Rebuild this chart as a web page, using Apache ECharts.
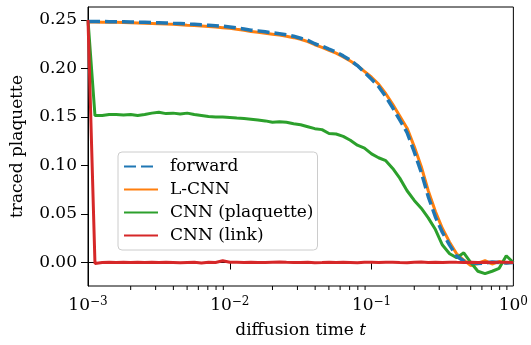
<!DOCTYPE html>
<html>
<head>
<meta charset="utf-8">
<script src="https://cdn.jsdelivr.net/npm/echarts@6/dist/echarts.min.js"></script>
<style>
  html, body { margin: 0; padding: 0; background: #fff; }
  #chart { width: 531px; height: 345px; }
</style>
</head>
<body>
<div id="chart"></div>
<script>
// diffusion times (log spaced, 20 per decade)
const times = [
  0.001, 0.00112, 0.00126, 0.00141, 0.00158, 0.00178, 0.002, 0.00224, 0.00251, 0.00282,
  0.00316, 0.00355, 0.00398, 0.00447, 0.00501, 0.00562, 0.00631, 0.00708, 0.00794, 0.00891,
  0.01, 0.0112, 0.0126, 0.0141, 0.0158, 0.0178, 0.02, 0.0224, 0.0251, 0.0282,
  0.0316, 0.0355, 0.0398, 0.0447, 0.0501, 0.0562, 0.0631, 0.0708, 0.0794, 0.0891,
  0.1, 0.112, 0.126, 0.141, 0.158, 0.178, 0.2, 0.224, 0.251, 0.282,
  0.316, 0.355, 0.398, 0.447, 0.501, 0.562, 0.631, 0.708, 0.794, 0.891,
  1.0
];

const forward = [
  0.2485, 0.2485, 0.2484, 0.2483, 0.2482, 0.2481, 0.2479, 0.2478, 0.2476, 0.2474,
  0.2472, 0.2469, 0.2466, 0.2463, 0.2459, 0.2455, 0.2450, 0.2446, 0.2441, 0.2436,
  0.2428, 0.2418, 0.2408, 0.2395, 0.2388, 0.2378, 0.2368, 0.2358, 0.2347, 0.2332,
  0.2312, 0.2290, 0.2255, 0.2230, 0.2200, 0.2170, 0.2130, 0.2085, 0.2030, 0.1960,
  0.1890, 0.1815, 0.1710, 0.1595, 0.1470, 0.1340, 0.1140, 0.0930, 0.0680, 0.0470,
  0.0310, 0.0180, 0.0065, 0.0015, 0.0000, -0.0010, -0.0005, 0.0005, 0.0000, -0.0005,
  0.0000
];

const lcnn = [
  0.2480, 0.2479, 0.2478, 0.2477, 0.2476, 0.2474, 0.2472, 0.2470, 0.2467, 0.2465,
  0.2462, 0.2458, 0.2455, 0.2451, 0.2446, 0.2442, 0.2437, 0.2432, 0.2427, 0.2421,
  0.2414, 0.2404, 0.2394, 0.2382, 0.2374, 0.2364, 0.2354, 0.2344, 0.2333, 0.2318,
  0.2302, 0.2277, 0.2245, 0.2218, 0.2188, 0.2158, 0.2120, 0.2077, 0.2030, 0.1970,
  0.1910, 0.1840, 0.1740, 0.1630, 0.1510, 0.1385, 0.1195, 0.0990, 0.0740, 0.0525,
  0.0350, 0.0210, 0.0090, 0.0025, -0.0030, -0.0010, 0.0020, -0.0015, 0.0010, -0.0005,
  0.0005
];

const cnnPlaquette = [
  0.2500, 0.1515, 0.1515, 0.1525, 0.1525, 0.1520, 0.1525, 0.1515, 0.1525, 0.1540,
  0.1550, 0.1535, 0.1540, 0.1530, 0.1540, 0.1525, 0.1515, 0.1505, 0.1500, 0.1500,
  0.1495, 0.1490, 0.1485, 0.1478, 0.1470, 0.1460, 0.1445, 0.1450, 0.1445, 0.1430,
  0.1420, 0.1400, 0.1380, 0.1370, 0.1330, 0.1325, 0.1300, 0.1260, 0.1210, 0.1180,
  0.1120, 0.1080, 0.1050, 0.0970, 0.0870, 0.0740, 0.0640, 0.0560, 0.0460, 0.0340,
  0.0180, 0.0090, 0.0050, 0.0100, 0.0000, -0.0090, -0.0115, -0.0090, -0.0060, 0.0070,
  0.0000
];

const cnnLink = [
  0.2500, -0.0010, 0.0000, 0.0002, 0.0001, 0.0003, 0.0001, 0.0002, 0.0000, 0.0003,
  0.0001, 0.0002, 0.0000, -0.0003, 0.0001, 0.0002, -0.0004, 0.0002, 0.0001, 0.0018,
  0.0002, 0.0004, 0.0001, 0.0002, 0.0000, 0.0001, 0.0003, 0.0005, 0.0002, 0.0000,
  0.0001, 0.0003, -0.0002, 0.0001, 0.0004, 0.0000, 0.0002, 0.0001, -0.0003, 0.0002,
  0.0003, 0.0000, 0.0002, 0.0004, 0.0001, -0.0002, 0.0003, 0.0006, 0.0001, 0.0002,
  0.0000, 0.0004, 0.0002, 0.0001, 0.0003, 0.0000, 0.0002, 0.0001, 0.0003, 0.0002,
  0.0001
];

const yTicks = [0, 0.05, 0.1, 0.15, 0.2, 0.25];
const minorTicks = [
  0.002, 0.003, 0.004, 0.005, 0.006, 0.007, 0.008, 0.009,
  0.02, 0.03, 0.04, 0.05, 0.06, 0.07, 0.08, 0.09,
  0.2, 0.3, 0.4, 0.5, 0.6, 0.7, 0.8, 0.9
];

const FONT = "DejaVu Serif";
const SIZE = 17;

function pairs(values) {
  return times.map((t, i) => [t, values[i]]);
}

function formatPower(value) {
  const exp = Math.round(Math.log10(value));
  const expText = exp < 0 ? "\u2212" + Math.abs(exp) : String(exp);
  return `{b|10}{s|${expText}}`;
}

const chart = echarts.init(document.getElementById("chart"));

chart.setOption({
  animation: false,
  grid: {
    left: 88,
    right: 15,
    top: 7,
    bottom: 59,
    show: true,
    borderColor: "#000",
    borderWidth: 1,
    backgroundColor: "transparent",
  },
  legend: {
    data: ["forward", "L-CNN", "CNN (plaquette)", "CNN (link)"],
    orient: "vertical",
    left: 118,
    top: 152,
    itemWidth: 34,
    itemHeight: 14,
    itemGap: 6,
    padding: [6, 4, 6, 5],
    backgroundColor: "rgba(255,255,255,0.85)",
    borderColor: "#cccccc",
    borderWidth: 1,
    borderRadius: 4,
    itemStyle: { opacity: 0 },
    textStyle: {
      fontFamily: FONT,
      fontSize: SIZE,
      lineHeight: 14,
      color: "#000",
      padding: [0, 0, 0, 7],
    },
  },
  xAxis: {
    type: "log",
    logBase: 10,
    min: 0.001,
    max: 1,
    axisLine: { lineStyle: { color: "#000", width: 1 } },
    axisTick: { length: 7, lineStyle: { color: "#000" } },
    splitLine: { show: false },
    axisLabel: {
      margin: 10,
      formatter: formatPower,
      rich: {
        b: { fontFamily: FONT, fontSize: SIZE, color: "#000" },
        s: {
          fontFamily: FONT,
          fontSize: 12,
          color: "#000",
          verticalAlign: "bottom",
          padding: [0, 0, 8, 0],
        },
      },
    },
    name: "diffusion time {i|t}",
    nameLocation: "middle",
    nameGap: 36,
    nameTextStyle: {
      fontFamily: FONT,
      fontSize: SIZE,
      color: "#000",
      rich: {
        i: { fontFamily: FONT, fontSize: SIZE, fontStyle: "italic", color: "#000" },
      },
    },
  },
  yAxis: {
    type: "value",
    min: -0.0242,
    max: 0.2634,
    axisLine: { show: true, lineStyle: { color: "#000", width: 1 } },
    axisTick: {
      show: true,
      length: 7,
      customValues: yTicks,
      lineStyle: { color: "#000" },
    },
    splitLine: { show: false },
    axisLabel: {
      customValues: yTicks,
      margin: 11,
      fontFamily: FONT,
      fontSize: SIZE,
      color: "#000",
      formatter: (v) => v.toFixed(2),
    },
    name: "traced plaquette",
    nameLocation: "middle",
    nameGap: 62,
    nameTextStyle: { fontFamily: FONT, fontSize: SIZE, color: "#000" },
  },
  series: [
    {
      name: "L-CNN",
      type: "line",
      data: pairs(lcnn),
      showSymbol: false,
      symbol: "none",
      z: 2,
      lineStyle: { color: "#ff7f0e", width: 3 },
      itemStyle: { color: "#ff7f0e" },
    },
    {
      name: "forward",
      type: "line",
      data: pairs(forward),
      showSymbol: false,
      symbol: "none",
      z: 3,
      lineStyle: { color: "#1f77b4", width: 3.5, type: [12, 5] },
      itemStyle: { color: "#1f77b4" },
    },
    {
      name: "CNN (plaquette)",
      type: "line",
      data: pairs(cnnPlaquette),
      showSymbol: false,
      symbol: "none",
      z: 2,
      lineStyle: { color: "#2ca02c", width: 3 },
      itemStyle: { color: "#2ca02c" },
    },
    {
      name: "CNN (link)",
      type: "line",
      data: pairs(cnnLink),
      showSymbol: false,
      symbol: "none",
      z: 4,
      lineStyle: { color: "#d62728", width: 3 },
      itemStyle: { color: "#d62728" },
    },
    {
      name: "minor ticks",
      type: "custom",
      silent: true,
      clip: false,
      data: minorTicks.map((t) => [t, 0]),
      renderItem: (params, api) => {
        const x = api.coord([api.value(0), 0])[0];
        const bottom = params.coordSys.y + params.coordSys.height;
        return {
          type: "line",
          shape: { x1: x, y1: bottom, x2: x, y2: bottom + 4 },
          style: { stroke: "#000", lineWidth: 1 },
        };
      },
    },
  ],
});
</script>
</body>
</html>
